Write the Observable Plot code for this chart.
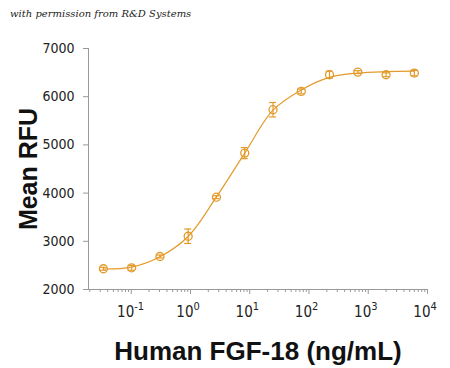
<!DOCTYPE html>
<html>
<head>
<meta charset="utf-8">
<script src="https://cdn.jsdelivr.net/npm/d3@7"></script>
<script src="https://cdn.jsdelivr.net/npm/@observablehq/plot@0.6"></script>
<style>
  html, body { margin: 0; padding: 0; background: #fff; }
  #wrap { position: relative; width: 450px; height: 368px; }
  #credit { position: absolute; left: 10px; top: 8px; font-family: "DejaVu Serif", serif; font-style: italic; font-size: 10px; color: #222; }
</style>
</head>
<body>
<div id="wrap">
  <div id="credit">with permission from R&amp;D Systems</div>
  <div id="chart"></div>
</div>
<script>
// Concentrations (ng/mL), 3-fold dilution series
const conc = [0.0339, 0.1016, 0.305, 0.914, 2.74, 8.23, 24.7, 74.1, 222, 667, 2000, 6000];
// Mean RFU
const rfu = [2430, 2450, 2685, 3105, 3915, 4830, 5730, 6110, 6455, 6510, 6455, 6490];
// Error (± RFU)
const err = [30, 50, 30, 150, 30, 115, 150, 50, 75, 30, 40, 55];
// Fitted curve values at each concentration
const fit = [2425, 2465, 2680, 3100, 3920, 4830, 5720, 6140, 6400, 6490, 6520, 6530];
// Axis ticks
const yTicks = [2000, 3000, 4000, 5000, 6000, 7000];
const xMajor = [0.1, 1, 10, 100, 1000, 10000];
const xBase = ["10", "10", "10", "10", "10", "10"];
const xExp = ["-1", "0", "1", "2", "3", "4"];

const pts = conc.map((c, i) => ({x: c, y: rfu[i], lo: rfu[i] - err[i], hi: rfu[i] + err[i], f: fit[i]}));
const xMinor = [];
for (let e = -2; e < 4; e++) for (let m = 2; m <= 9; m++) {
  const v = m * Math.pow(10, e);
  if (v >= 0.019 && v <= 10000) xMinor.push(v);
}
const xLab = xMajor.map((v, i) => ({x: v, base: xBase[i], exp: xExp[i]}));

const orange = "#E49A2B";
const narrow = "'Liberation Sans Narrow', 'DejaVu Sans Condensed', sans-serif";
const bold = "'Liberation Sans', Arial, sans-serif";

const plot = Plot.plot({
  width: 450,
  height: 368,
  marginLeft: 88,
  marginRight: 23,
  marginTop: 48,
  marginBottom: 79,
  style: {fontFamily: narrow, fontSize: "14px", color: "#222", background: "transparent"},
  x: {type: "log", domain: [0.019, 10000]},
  y: {domain: [2000, 7000]},
  marks: [
    Plot.axisY({ticks: yTicks, tickSize: 5, tickPadding: 9, tickFormat: d3.format("d"), label: null, fontSize: 14, stroke: "#999", fill: "#222"}),
    Plot.axisX({ticks: xMinor, tickSize: 3, tickFormat: () => "", label: null, stroke: "#999"}),
    Plot.axisX({ticks: xMajor, tickSize: 5, tickFormat: () => "", label: null, stroke: "#999"}),
    Plot.text(xLab, {x: "x", frameAnchor: "bottom", dy: 27, dx: 3, textAnchor: "end", text: "base", fontFamily: narrow, fontSize: 15, fill: "#222"}),
    Plot.text(xLab, {x: "x", frameAnchor: "bottom", dy: 20, dx: 3, textAnchor: "start", text: "exp", fontFamily: narrow, fontSize: 11, fill: "#222"}),
    Plot.ruleY([2000], {stroke: "#999"}),
    Plot.ruleX([0.019], {stroke: "#999", y1: 2000, y2: 7000}),
    Plot.line(pts, {x: "x", y: "f", stroke: orange, strokeWidth: 1.2, curve: "catmull-rom"}),
    Plot.ruleX(pts, {x: "x", y1: "lo", y2: "hi", stroke: orange, strokeWidth: 1.2}),
    Plot.ruleY(pts, {x1: "x", x2: "x", y: "lo", insetLeft: -3.5, insetRight: -3.5, stroke: orange, strokeWidth: 1.2}),
    Plot.ruleY(pts, {x1: "x", x2: "x", y: "hi", insetLeft: -3.5, insetRight: -3.5, stroke: orange, strokeWidth: 1.2}),
    Plot.dot(pts, {x: "x", y: "y", r: 4, stroke: orange, fill: "white", fillOpacity: 0, strokeWidth: 1.3}),
    Plot.text(["Mean RFU"], {frameAnchor: "left", dx: -60, rotate: -90, textAnchor: "middle", fontFamily: bold, fontWeight: "bold", fontSize: 25, fill: "#111"}),
    Plot.text(["Human FGF-18 (ng/mL)"], {frameAnchor: "bottom", dy: 70, dx: 0, textAnchor: "middle", fontFamily: bold, fontWeight: "bold", fontSize: 26, fill: "#111"})
  ]
});
document.getElementById("chart").appendChild(plot);
</script>
</body>
</html>
